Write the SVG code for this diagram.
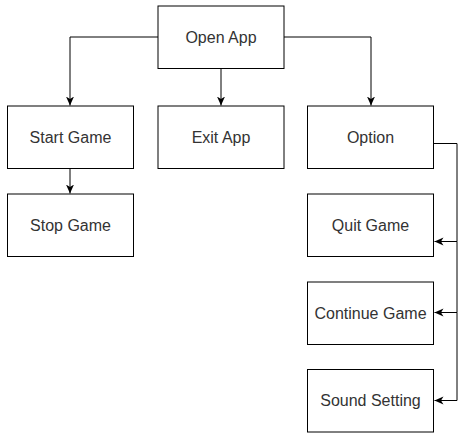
<svg xmlns="http://www.w3.org/2000/svg" width="459" height="435" viewBox="0 0 459 435">
  <style>
    .box { fill: #ffffff; stroke: #000000; stroke-width: 1; }
    .lbl { font-family: "Liberation Sans", Arial, sans-serif; font-size: 16px; fill: #333333; text-anchor: middle; dominant-baseline: central; }
    .edge { fill: none; stroke: #000000; stroke-width: 1; marker-end: url(#arrow); }
  </style>
  <defs>
    <marker id="arrow" viewBox="0 0 10 10" refX="9" refY="5" markerWidth="10" markerHeight="10" markerUnits="userSpaceOnUse" orient="auto">
      <path d="M0,1 L9,5 L0,9 L2.5,5 Z" fill="#000000"/>
    </marker>
  </defs>
  <rect width="459" height="435" fill="#ffffff"/>

  <g id="connectors">
    <path class="edge" d="M158,37 H70 V105.5"/>
    <path class="edge" d="M221,68.5 V105.5"/>
    <path class="edge" d="M284,37 H371 V105.5"/>
    <path class="edge" d="M70,168.5 V193.5"/>
    <path class="edge" d="M434,143.5 H457 V241.5 H434.5"/>
    <path class="edge" d="M457,241.5 V312.5 H434.5"/>
    <path class="edge" d="M457,312.5 V400.5 H434.5"/>
  </g>

  <g id="open-app">
    <rect class="box" x="158" y="6" width="126" height="62.5"/>
    <text class="lbl" x="221" y="37">Open App</text>
  </g>
  <g id="start-game">
    <rect class="box" x="7.5" y="106" width="126" height="62.5"/>
    <text class="lbl" x="70.5" y="137">Start Game</text>
  </g>
  <g id="exit-app">
    <rect class="box" x="158" y="106" width="126" height="62.5"/>
    <text class="lbl" x="221" y="137">Exit App</text>
  </g>
  <g id="option">
    <rect class="box" x="307.5" y="106" width="126" height="62.5"/>
    <text class="lbl" x="370.5" y="137">Option</text>
  </g>
  <g id="stop-game">
    <rect class="box" x="7.5" y="194" width="126" height="62.5"/>
    <text class="lbl" x="70.5" y="225">Stop Game</text>
  </g>
  <g id="quit-game">
    <rect class="box" x="307.5" y="194" width="126" height="62.5"/>
    <text class="lbl" x="370.5" y="225">Quit Game</text>
  </g>
  <g id="continue-game">
    <rect class="box" x="307.5" y="282" width="126" height="62.5"/>
    <text class="lbl" x="370.5" y="313">Continue Game</text>
  </g>
  <g id="sound-setting">
    <rect class="box" x="307.5" y="369.5" width="126" height="62.5"/>
    <text class="lbl" x="370.5" y="400.5">Sound Setting</text>
  </g>
</svg>
